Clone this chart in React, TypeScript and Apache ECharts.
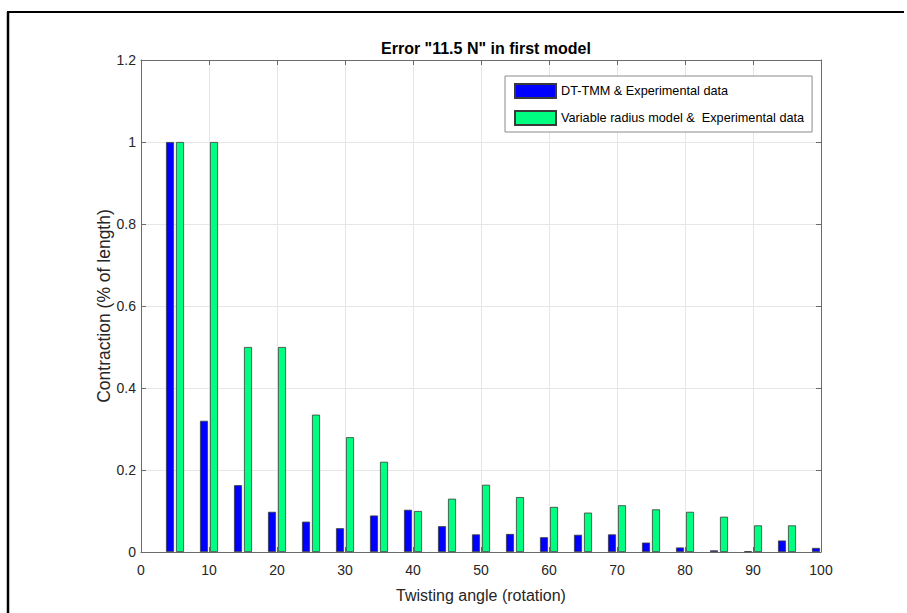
import React, { useEffect, useRef } from "react";
import * as echarts from "echarts";

const angles = [5, 10, 15, 20, 25, 30, 35, 40, 45, 50, 55, 60, 65, 70, 75, 80, 85, 90, 95, 100];
const dtTmm = [1.0, 0.32, 0.163, 0.098, 0.074, 0.058, 0.089, 0.103, 0.063, 0.043, 0.044, 0.036, 0.042, 0.043, 0.023, 0.011, 0.004, 0.002, 0.028, 0.01];
const variableRadius = [1.0, 1.0, 0.5, 0.5, 0.335, 0.28, 0.22, 0.1, 0.13, 0.164, 0.134, 0.11, 0.096, 0.114, 0.104, 0.098, 0.086, 0.065, 0.065, null];

const titleText = 'Error "11.5 N" in first model';
const xName = "Twisting angle (rotation)";
const yName = "Contraction (% of length)";
const seriesNames = ["DT-TMM & Experimental data", "Variable radius model &  Experimental data"];

const FONT = "'Liberation Sans', Arial, sans-serif";
const TXT = "#262626";
const AXIS = "#6b6b6b";
const GRID = "#e6e6e6";

function mkTick() {
  return { show: true, inside: true, length: 5, lineStyle: { color: AXIS, width: 1 } };
}
function mkLine() {
  return { show: true, onZero: false, lineStyle: { color: AXIS, width: 1 } };
}

export default function App() {
  const ref = useRef<HTMLDivElement>(null);
  useEffect(() => {
    if (!ref.current) return;
    const chart = echarts.init(ref.current, null, { renderer: "svg" });
    chart.setOption({
      animation: false,
      backgroundColor: "#ffffff",
      textStyle: { fontFamily: FONT },
      title: {
        text: titleText,
        left: 481,
        top: 35,
        textAlign: "center",
        textStyle: { fontFamily: FONT, fontSize: 16, fontWeight: "bold", color: "#000" },
      },
      legend: {
        orient: "vertical",
        left: 505,
        top: 76,
        itemWidth: 41,
        itemHeight: 14,
        itemGap: 11,
        padding: [7, 8, 6, 9],
        borderColor: "#8a8a8a",
        borderWidth: 1,
        backgroundColor: "#fff",
        icon: "rect",
        textStyle: { fontFamily: FONT, fontSize: 12.7, color: "#000" },
        data: seriesNames,
      },
      grid: { left: 141, top: 60, width: 680, height: 492, containLabel: false },
      xAxis: [
        {
          type: "value",
          min: 0,
          max: 100,
          interval: 10,
          position: "bottom",
          name: xName,
          nameLocation: "middle",
          nameGap: 35,
          nameTextStyle: { fontFamily: FONT, fontSize: 16, color: TXT },
          axisLine: mkLine(),
          axisTick: mkTick(),
          axisLabel: { fontFamily: FONT, fontSize: 14, color: TXT, margin: 11 },
          splitLine: { show: true, lineStyle: { color: GRID, width: 1 } },
        },
        {
          type: "value",
          min: 0,
          max: 100,
          interval: 10,
          position: "top",
          axisLine: mkLine(),
          axisTick: mkTick(),
          axisLabel: { show: false },
          splitLine: { show: false },
        },
      ],
      yAxis: [
        {
          type: "value",
          min: 0,
          max: 1.2,
          interval: 0.2,
          position: "left",
          name: yName,
          nameLocation: "middle",
          nameGap: 28,
          nameMoveOverlap: false,
          nameTextStyle: { fontFamily: FONT, fontSize: 17.5, color: TXT },
          axisLine: mkLine(),
          axisTick: mkTick(),
          axisLabel: { fontFamily: FONT, fontSize: 14, color: TXT, margin: 5 },
          splitLine: { show: true, lineStyle: { color: GRID, width: 1 } },
        },
        {
          type: "value",
          min: 0,
          max: 1.2,
          interval: 0.2,
          position: "right",
          axisLine: mkLine(),
          axisTick: mkTick(),
          axisLabel: { show: false },
          splitLine: { show: false },
        },
      ],
      series: [
        {
          name: seriesNames[0],
          type: "bar",
          xAxisIndex: 0,
          yAxisIndex: 0,
          barWidth: 8,
          barGap: "25%",
          clip: true,
          itemStyle: { color: "#0000ff", borderColor: "#3a3a3a", borderWidth: 0.8 },
          data: angles.map((a, i) => [a, dtTmm[i]]),
        },
        {
          name: seriesNames[1],
          type: "bar",
          xAxisIndex: 0,
          yAxisIndex: 0,
          barWidth: 8,
          barGap: "25%",
          clip: true,
          itemStyle: { color: "#00ff80", borderColor: "#3a3a3a", borderWidth: 0.8 },
          data: angles.map((a, i) => [a, variableRadius[i]]),
        },
      ],
      graphic: [
        { type: "line", shape: { x1: 7, y1: 12, x2: 904, y2: 12 }, style: { stroke: "#000", lineWidth: 2 } },
        { type: "line", shape: { x1: 8, y1: 12, x2: 8, y2: 613 }, style: { stroke: "#000", lineWidth: 2.5 } },
      ],
    });
    return () => chart.dispose();
  }, []);
  return (
    <div
      ref={ref}
      style={{ position: "fixed", left: 0, top: 0, width: 907, height: 613 }}
    />
  );
}
